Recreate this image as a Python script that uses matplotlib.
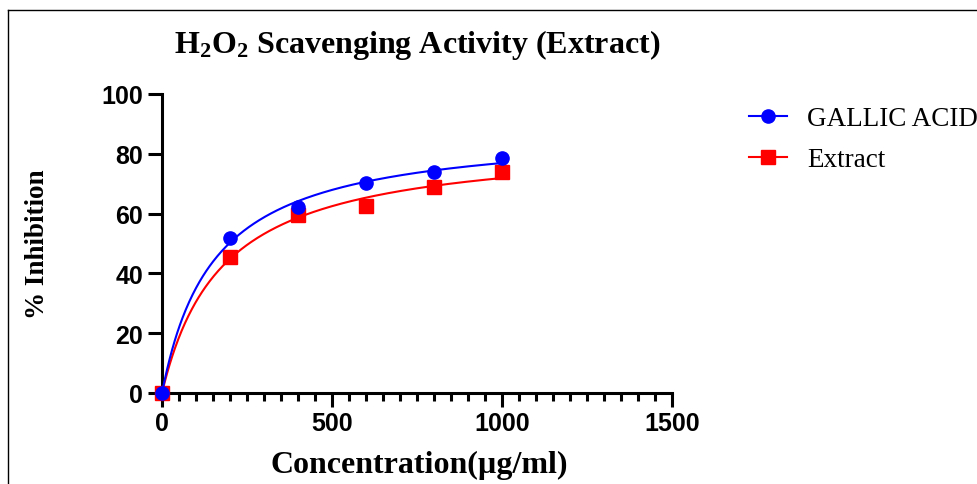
import numpy as np
import matplotlib
matplotlib.use("Agg")
import matplotlib.pyplot as plt
from matplotlib.lines import Line2D
from matplotlib.ticker import MultipleLocator

# Measured data
concentration = [0, 200, 400, 600, 800, 1000]
gallic_acid = [0, 51.8, 62.1, 70.1, 74.0, 78.6]
extract = [0, 45.4, 59.5, 62.4, 69.0, 73.8]

series_labels = ["GALLIC ACID", "Extract"]
x_ticks = [0, 500, 1000, 1500]
y_ticks = [0, 20, 40, 60, 80, 100]

plt.rcParams["mathtext.fontset"] = "custom"
plt.rcParams["mathtext.rm"] = "Liberation Serif:bold"
plt.rcParams["mathtext.bf"] = "Liberation Serif:bold"


def hyperbola_fit(x, y):
    """Least-squares fit of y = Bmax * x / (Kd + x)."""
    x = np.asarray(x, float)
    y = np.asarray(y, float)
    best = None
    for kd in np.linspace(1, 3000, 30000):
        f = x / (kd + x)
        bmax = np.dot(f, y) / np.dot(f, f)
        sse = np.sum((y - bmax * f) ** 2)
        if best is None or sse < best[0]:
            best = (sse, bmax, kd)
    return best[1], best[2]


W, H = 977, 485
fig = plt.figure(figsize=(W / 100, H / 100), dpi=100)
ax = fig.add_axes([162 / W, 1 - 394 / H, (672 - 162) / W, (394 - 95) / H])

xs = np.linspace(0, max(concentration), 400)
blue, red = "#0000FF", "#FF0000"

# Extract (drawn first, below)
b, k = hyperbola_fit(concentration, extract)
ax.plot(xs, b * xs / (k + xs), color=red, lw=1.5, zorder=3, clip_on=False)
ax.plot(concentration, extract, ls="none", marker="s", ms=10, color=red,
        zorder=4, clip_on=False)
# Gallic acid
b, k = hyperbola_fit(concentration, gallic_acid)
ax.plot(xs, b * xs / (k + xs), color=blue, lw=1.5, zorder=5, clip_on=False)
ax.plot(concentration, gallic_acid, ls="none", marker="o", ms=9.5, color=blue,
        zorder=6, clip_on=False)

ax.set_xlim(0, 1500)
ax.set_ylim(0, 100)
ax.set_xticks(x_ticks)
ax.set_yticks(y_ticks)
ax.xaxis.set_minor_locator(MultipleLocator(50))
for s in ["top", "right"]:
    ax.spines[s].set_visible(False)
for s in ["left", "bottom"]:
    ax.spines[s].set_linewidth(2.2)
ax.tick_params(axis="both", which="major", length=10, width=2.2, direction="out")
ax.tick_params(axis="x", which="minor", length=6, width=2.2, direction="out")
ax.tick_params(axis="x", which="major", pad=3)
ax.tick_params(axis="y", which="major", pad=3.5)
for lab in ax.get_xticklabels() + ax.get_yticklabels():
    lab.set_fontfamily("Liberation Sans")
    lab.set_fontweight("bold")
    lab.set_fontsize(18)

fig.text(417 / W, 1 - 53 / H, r"$\mathrm{H_2O_2}$ Scavenging Activity (Extract)",
         ha="center", va="baseline", family="Liberation Serif", weight="bold",
         fontsize=23)
fig.text(419 / W, 1 - 473 / H, "Concentration(µg/ml)", ha="center", va="baseline",
         family="Liberation Serif", weight="bold", fontsize=23)
fig.text(37.5 / W, 1 - 244 / H, "% Inhibition", ha="center", va="center", rotation=90,
         family="Liberation Serif", weight="bold", fontsize=19.5)

handles = [
    Line2D([], [], color=blue, marker="o", ms=9.5, lw=1.5),
    Line2D([], [], color=red, marker="s", ms=10, lw=1.5),
]
fig.legend(handles, series_labels, loc="upper left", bbox_to_anchor=(749 / W, 1 - 107 / H),
           frameon=False, borderpad=0, borderaxespad=0, handlelength=1.4,
           handletextpad=0.75, labelspacing=0.6,
           prop={"family": "Liberation Serif", "size": 19.5})

# Outer frame
fig.add_artist(Line2D([7.5 / W, 7.5 / W], [0, 1 - 11 / H], transform=fig.transFigure,
                      color="black", lw=1))
fig.add_artist(Line2D([7.5 / W, 1], [1 - 11 / H, 1 - 11 / H], transform=fig.transFigure,
                      color="black", lw=1))

fig.savefig("out.png", dpi=100)
